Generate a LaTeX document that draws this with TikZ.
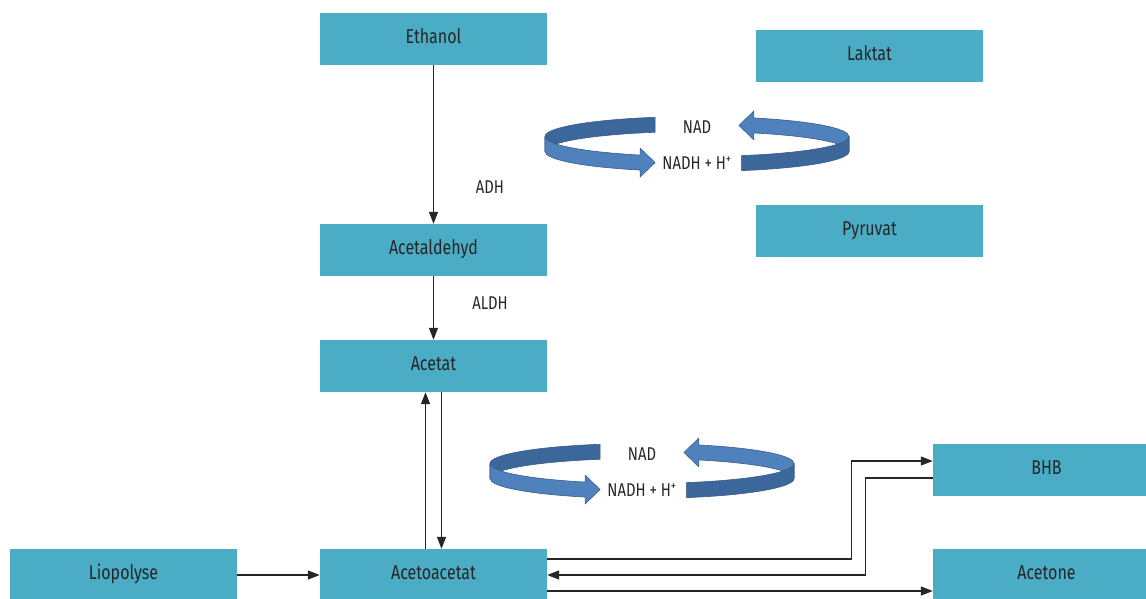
\documentclass[tikz,border=0pt]{standalone}
\usepackage{fontspec}
\setmainfont[FakeStretch=0.8]{Fira Sans}
\usetikzlibrary{arrows.meta}
\definecolor{boxblue}{HTML}{4BACC6}
\definecolor{ringlight}{HTML}{4F81BD}
\definecolor{ringdark}{HTML}{3C679A}
\definecolor{ringline}{HTML}{385D8A}
\definecolor{txt}{HTML}{262626}

\begin{document}
\begin{tikzpicture}[
  x=1pt, y=1pt,
  box/.style={fill=boxblue, minimum width=227pt, minimum height=52pt, inner sep=0pt,
    text height=14pt, text depth=5pt, text=txt, font=\fontsize{20}{24}\selectfont},
  lbl/.style={text=txt, font=\fontsize{18.5}{22}\selectfont},
  e/.style={draw=black!85, line width=1.2pt, -{Triangle[length=12pt,width=9pt]}},
  band/.style={draw=ringline, line width=0.6pt, line join=round},
  ell/.style={x radius=152, y radius=20}
]
\useasboundingbox (0,0) rectangle (1146,-598);

\node[box] (eth) at (433.5,-39) {Ethanol};
\node[box] (ald) at (433.5,-250) {Acetaldehyd};
\node[box] (act) at (433.5,-366) {Acetat};
\node[box] (aac) at (433.5,-575) {Acetoacetat};
\node[box] (lip) at (123.5,-575) {Liopolyse};
\node[box] (lak) at (869.5,-56) {Laktat};
\node[box] (pyr) at (869.5,-231) {Pyruvat};
\node[box] (bhb) at (1046.5,-470) {BHB};
\node[box] (acn) at (1046.5,-575) {Acetone};

\node[lbl] (adh) at (490,-187) {ADH};
\node[lbl] (aldh) at (490,-303) {ALDH};

% NAD cycles
\foreach \cx/\cy/\i in {697/-144/1, 642/-471/2} {
  % back half
  \filldraw[band, fill=ringdark] (\cx,\cy+7.5) ++(106:152 and 20)
    arc[start angle=106, end angle=180, ell] -- ++(0,-15)
    arc[start angle=180, end angle=106, ell] -- cycle;
  \filldraw[band, fill=ringlight] (\cx,\cy+7.5) ++(0:152 and 20)
    arc[start angle=0, end angle=68, ell] -- ++(0,7) -- ++(-15,-14.5) -- ++(15,-14.5) -- ++(0,7)
    arc[start angle=68, end angle=0, ell] -- cycle;
  % front half
  \filldraw[band, fill=ringlight] (\cx,\cy+7.5) ++(180:152 and 20)
    arc[start angle=180, end angle=248, ell] -- ++(0,7) -- ++(15,-14.5) -- ++(-15,-14.5) -- ++(0,7)
    arc[start angle=248, end angle=180, ell] -- cycle;
  \filldraw[band, fill=ringdark] (\cx,\cy+7.5) ++(287:152 and 20)
    arc[start angle=287, end angle=360, ell] -- ++(0,-15)
    arc[start angle=360, end angle=287, ell] -- cycle;
  \node[lbl] (nad\i) at (\cx,\cy+17) {NAD};
  \node[lbl] (nadh\i) at (\cx,\cy-19) {NADH + H\textsuperscript{+}};
}

\draw[e] (eth) -- (ald);
\draw[e] (ald) -- (act);
\draw[e] ([xshift=-8pt]aac.north) -- ([xshift=-8pt]act.south);
\draw[e] ([xshift=8pt]act.south) -- ([xshift=8pt]aac.north);
\draw[e] (lip) -- (aac);
\draw[e] ([yshift=16pt]aac.east) -- ++(304,0) |- ([yshift=9pt]bhb.west);
\draw[e] ([yshift=-8pt]bhb.west) -- ++(-67,0) |- (aac.east);
\draw[e] ([yshift=-16pt]aac.east) -- ([yshift=-16pt]acn.west);
\end{tikzpicture}
\end{document}
